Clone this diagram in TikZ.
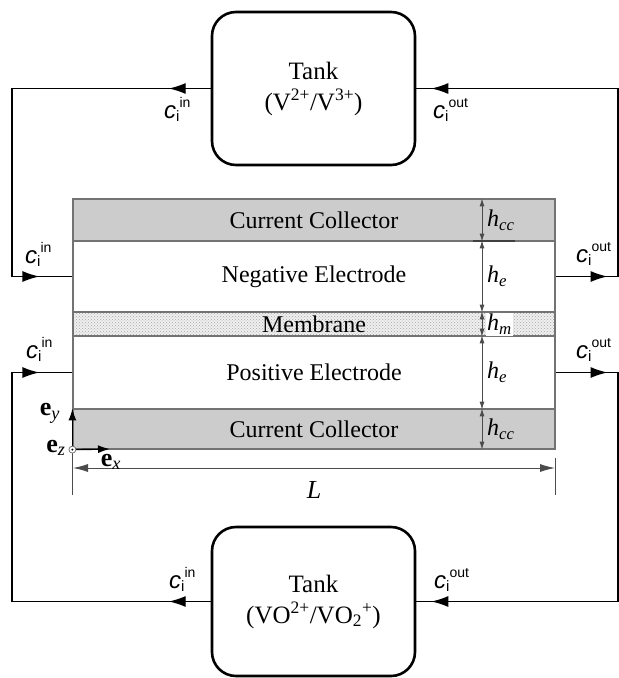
\documentclass[tikz,border=0pt]{standalone}
\usepackage{fontspec}
\setmainfont{Liberation Serif}
\setsansfont{Liberation Sans}
\usetikzlibrary{arrows.meta,decorations.markings,patterns}

% concentration label: italic c, subscript i, superscript in/out
\newcommand{\cflow}[1]{{\sffamily\fontsize{24}{24}\selectfont\textit{c}\raisebox{-3pt}{\fontsize{15}{15}\selectfont i}\raisebox{11pt}{\fontsize{14}{14}\selectfont #1}}}

\begin{document}
\begin{tikzpicture}[x=1pt,y=-1pt,
  tank/.style={draw, line width=2.6pt, rounded corners=24pt, minimum width=203pt,
    inner sep=0pt, align=center, font=\fontsize{25}{31}\selectfont},
  layer/.style={draw=black!55, line width=1.2pt, minimum width=482pt, inner sep=0pt,
    font=\fontsize{24}{26}\selectfont},
  collector/.style={layer, fill=gray!40},
  flow/.style={line width=1.4pt},
  tipat/.style={postaction={decorate,decoration={markings,
    mark=at position #1 with {\arrow{Latex[length=17pt,width=11pt]}}}}},
  dim/.style={draw=black!70, line width=0.9pt,
    {Latex[length=8pt,width=5pt]}-{Latex[length=8pt,width=5pt]}},
  hlab/.style={anchor=west, inner sep=1pt, font=\fontsize{24}{26}\selectfont},
  flab/.style={anchor=base west, inner sep=0pt},
  unitvec/.style={line width=1.4pt, -{Latex[length=12pt,width=8pt]}},
  elab/.style={inner sep=0pt, font=\fontsize{26}{28}\selectfont}
]
\useasboundingbox (0,0) rectangle (619,678);

% electrolyte tanks
\node[tank, minimum height=153pt] (ttank) at (313.5,88.5)
  {Tank\\(V\textsuperscript{2+}/V\textsuperscript{3+})};
\node[tank, minimum height=149pt] (btank) at (313.5,601.5)
  {Tank\\(VO\textsuperscript{2+}/VO\textsubscript{2}\textsuperscript{+})};

% cell layers
\node[collector, minimum height=42pt] (cctop) at (314,220) {Current Collector};
\node[layer, minimum height=71pt] (neg) at (314,276.5) {Negative Electrode};
\node[layer, minimum height=24pt, preaction={fill=gray!12},
  pattern=crosshatch dots, pattern color=gray!70] (mem) at (314,324) {Membrane};
\node[layer, minimum height=73pt] (pos) at (314,372.5) {Positive Electrode};
\node[collector, minimum height=40pt] (ccbot) at (314,429) {Current Collector};

% circulation loops
\coordinate (xl) at (12,0);
\coordinate (xr) at (618,0);
\draw[flow, tipat=42pt, tipat=-33pt] (ttank.west) -| (xl |- neg.west) -- (neg.west);
\draw[flow, tipat=52pt, tipat=-15pt] (neg.east) -- (xr |- neg.east) |- (ttank.east);
\draw[flow, tipat=42pt, tipat=-33pt] (btank.west) -| (xl |- pos.west) -- (pos.west);
\draw[flow, tipat=52pt, tipat=-15pt] (pos.east) -- (xr |- pos.east) |- (btank.east);

\node[flab] (ctin) at (164,118) {\cflow{in}};
\node[flab] (ctout) at (433,118) {\cflow{out}};
\node[flab] (cnin) at (25,263) {\cflow{in}};
\node[flab] (cnout) at (576,262) {\cflow{out}};
\node[flab] (cpin) at (26,358) {\cflow{in}};
\node[flab] (cpout) at (576,358) {\cflow{out}};
\node[flab] (cbin) at (169,588) {\cflow{in}};
\node[flab] (cbout) at (434,588) {\cflow{out}};

% layer thicknesses
\coordinate (dx) at (482,0);
\draw[dim] (dx |- cctop.north) -- (dx |- cctop.south);
\draw[dim] (dx |- neg.north) -- (dx |- neg.south);
\draw[dim] (dx |- mem.north) -- (dx |- mem.south);
\draw[dim] (dx |- pos.north) -- (dx |- pos.south);
\draw[dim] (dx |- ccbot.north) -- (dx |- ccbot.south);
\draw[black!75, line width=1.4pt] (473,241) -- (515,241);

\node[hlab] (hcc1) at (486,220) {\textit{h}\textsubscript{\textit{cc}}};
\node[hlab] (he1) at (486,276.5) {\textit{h}\textsubscript{\textit{e}}};
\node[hlab, fill=white, inner ysep=0pt, minimum height=23pt] (hm) at (486,324) {\textit{h}\textsubscript{\textit{m}}};
\node[hlab] (he2) at (486,372.5) {\textit{h}\textsubscript{\textit{e}}};
\node[hlab] (hcc2) at (486,429) {\textit{h}\textsubscript{\textit{cc}}};

% cell length
\coordinate (Lw) at (73,468);
\coordinate (Le) at (555,468);
\draw[black!70, line width=0.9pt] (ccbot.south west) -- ++(0,45);
\draw[black!70, line width=0.9pt] ([yshift=-8pt]ccbot.south east) -- ++(0,37);
\draw[black!70, line width=0.9pt, {Latex[length=15pt,width=8pt]}-{Latex[length=15pt,width=8pt]}] (Lw) -- (Le);
\node[elab] (Llab) at (314,490) {\textit{L}};

% unit vectors
\coordinate (o) at (ccbot.south west);
\coordinate (exend) at (110,449);
\draw[unitvec] (o) -- (ccbot.north west);
\draw[unitvec] (o) -- (exend);
\node[circle, draw=black!60, fill=white, inner sep=0pt, minimum size=7pt, line width=0.7pt] (ez) at (o) {};
\fill (ez.center) circle (1.1pt);
\node[elab] (eylab) at (50,413) {\textbf{e}\textsubscript{\textit{y}}};
\node[elab] (ezlab) at (56,448) {\textbf{e}\textsubscript{\textit{z}}};
\node[elab] (exlab) at (111,462) {\textbf{e}\textsubscript{\textit{x}}};
\end{tikzpicture}
\end{document}
